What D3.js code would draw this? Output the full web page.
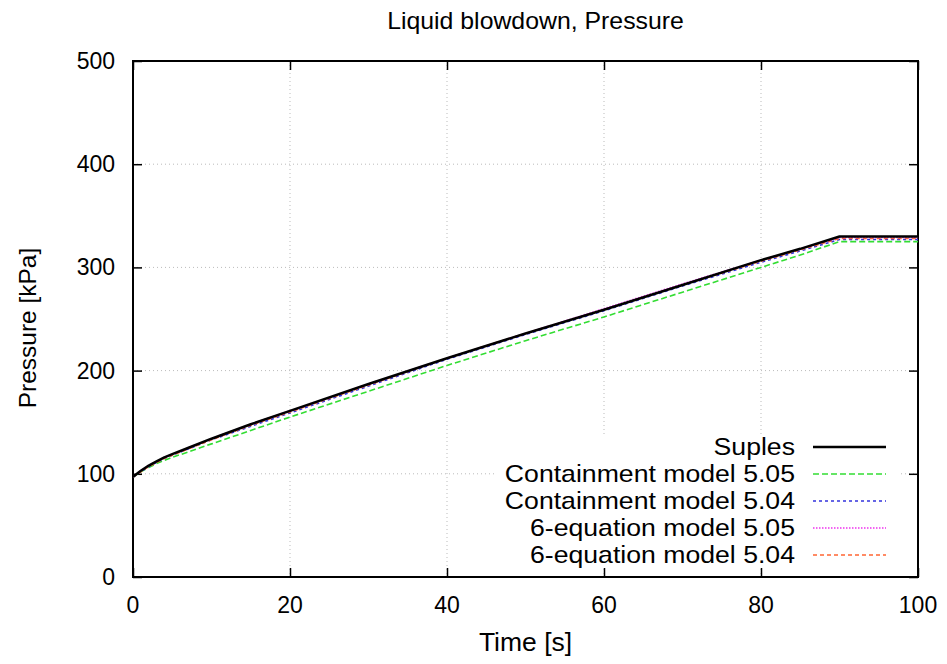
<!DOCTYPE html>
<html>
<head>
<meta charset="utf-8">
<script src="https://cdn.jsdelivr.net/npm/d3@7"></script>
<style>
  body { margin: 0; background: #fff; }
  svg text { font-family: "Liberation Sans", Arial, sans-serif; fill: #000; }
</style>
</head>
<body>
<div id="chart"></div>
<script>
// time axis samples [s]
const time = [0, 0.5, 1, 2, 3, 4, 5, 7, 10, 15, 20, 30, 40, 50, 60, 70, 80, 85, 90, 95, 100];

// pressure series [kPa]
const suples      = [97, 100, 103, 108, 112, 116, 119, 125, 134, 148, 161, 187, 212, 236, 259, 283, 307, 318, 330, 330, 330];
const contain505  = [97, 99.5, 102, 106, 110, 113, 116, 121, 129, 142, 155, 180, 205, 229, 252, 276, 300, 312, 325, 325, 325];
const contain504  = [97, 99.5, 102, 107, 111, 115, 118, 124, 133, 146, 159, 185, 211, 235, 258, 282, 305, 316, 327, 327, 327];
const sixeq505    = [97, 100, 103, 108, 112, 116, 119, 125, 134, 148, 161, 187, 212, 236, 260, 284, 307, 318, 329, 329, 329];
const sixeq504    = [97, 99.5, 102, 107, 111, 115, 118, 124, 133, 147, 160, 186, 212, 236, 259, 283, 306, 317, 328, 328, 328];

const seriesNames = ['Suples', 'Containment model 5.05', 'Containment model 5.04',
  '6-equation model 5.05', '6-equation model 5.04'];
const seriesValues = [suples, contain505, contain504, sixeq505, sixeq504];
const seriesColors = ['#000000', '#33dd33', '#3333dd', '#ee33ee', '#ff6633'];
const seriesDash = [null, '6,3', '3,3', '1.5,1.5', '4,3'];
const seriesWidth = [2.5, 1.6, 1.6, 1.6, 1.6];

const xTicks = [0, 20, 40, 60, 80, 100];
const yTicks = [0, 100, 200, 300, 400, 500];

const W = 947, H = 664;
const pl = 133, pr = 918, pt = 61, pb = 577;

const svg = d3.select('#chart').append('svg')
  .attr('width', W).attr('height', H);

const x = d3.scaleLinear().domain([0, 100]).range([pl, pr]);
const y = d3.scaleLinear().domain([0, 500]).range([pb, pt]);

// gnuplot text is a little wider than Liberation Sans, so stretch it
function label(g, tx, ty, str, size, anchor, sx, rot) {
  return g.append('text')
    .attr('transform', 'translate(' + tx + ',' + ty + ')' + (rot ? 'rotate(' + rot + ')' : '') + 'scale(' + sx + ',1)')
    .attr('text-anchor', anchor)
    .style('font-size', size + 'px')
    .text(str);
}

// grid
const grid = svg.append('g');
grid.selectAll('.gx').data(xTicks.slice(1, -1)).enter().append('line')
  .attr('x1', d => x(d)).attr('x2', d => x(d))
  .attr('y1', pt).attr('y2', pb)
  .attr('stroke', '#bbbbbb').attr('stroke-width', 1).attr('stroke-dasharray', '1,3');
grid.selectAll('.gy').data(yTicks.slice(1, -1)).enter().append('line')
  .attr('x1', pl).attr('x2', pr)
  .attr('y1', d => y(d)).attr('y2', d => y(d))
  .attr('stroke', '#bbbbbb').attr('stroke-width', 1).attr('stroke-dasharray', '1,3');

// key box hides grid
svg.append('rect')
  .attr('x', 497).attr('y', 437).attr('width', 403).attr('height', 130)
  .attr('fill', '#fff');

// axes with inward ticks, mirrored
const tl = 9;
svg.append('g').attr('transform', 'translate(0,' + pb + ')')
  .call(d3.axisBottom(x).tickValues(xTicks).tickSize(-tl).tickFormat(''))
  .call(g => g.select('.domain').remove());
svg.append('g').attr('transform', 'translate(0,' + pt + ')')
  .call(d3.axisTop(x).tickValues(xTicks).tickSize(-tl).tickFormat(''))
  .call(g => g.select('.domain').remove());
svg.append('g').attr('transform', 'translate(' + pl + ',0)')
  .call(d3.axisLeft(y).tickValues(yTicks).tickSize(-tl).tickFormat(''))
  .call(g => g.select('.domain').remove());
svg.append('g').attr('transform', 'translate(' + pr + ',0)')
  .call(d3.axisRight(y).tickValues(yTicks).tickSize(-tl).tickFormat(''))
  .call(g => g.select('.domain').remove());
svg.selectAll('.tick line').attr('stroke', '#000').attr('stroke-width', 1.5);

svg.append('rect')
  .attr('x', pl).attr('y', pt).attr('width', pr - pl).attr('height', pb - pt)
  .attr('fill', 'none').attr('stroke', '#000').attr('stroke-width', 2);

// tick labels
xTicks.forEach(t => label(svg, x(t), 613, t, 23, 'middle', 1.0));
yTicks.forEach(t => label(svg, 115, y(t) + 8, t, 23, 'end', 1.0));

// titles
label(svg, (pl + pr) / 2 + 10, 29, 'Liquid blowdown, Pressure', 23, 'middle', 1.08);
label(svg, (pl + pr) / 2, 651, 'Time [s]', 25, 'middle', 1.06);
label(svg, 36, 328, 'Pressure [kPa]', 24, 'middle', 1.02, -90);

// data lines
svg.append('clipPath').attr('id', 'clip').append('rect')
  .attr('x', pl).attr('y', pt).attr('width', pr - pl).attr('height', pb - pt);
const line = d3.line().x((d, i) => x(time[i])).y(d => y(d));
const order = [1, 2, 4, 3, 0];
order.forEach(k => {
  svg.append('path')
    .attr('clip-path', 'url(#clip)')
    .attr('d', line(seriesValues[k]))
    .attr('fill', 'none')
    .attr('stroke', seriesColors[k])
    .attr('stroke-width', seriesWidth[k])
    .attr('stroke-linejoin', 'round')
    .attr('stroke-dasharray', seriesDash[k]);
});

// legend
seriesNames.forEach((name, i) => {
  const cy = 447 + i * 27;
  label(svg, 795, cy + 8, name, 24, 'end', 1.11);
  svg.append('line')
    .attr('x1', 813).attr('x2', 886).attr('y1', cy).attr('y2', cy)
    .attr('stroke', seriesColors[i])
    .attr('stroke-width', seriesWidth[i])
    .attr('stroke-dasharray', seriesDash[i]);
});
</script>
</body>
</html>
